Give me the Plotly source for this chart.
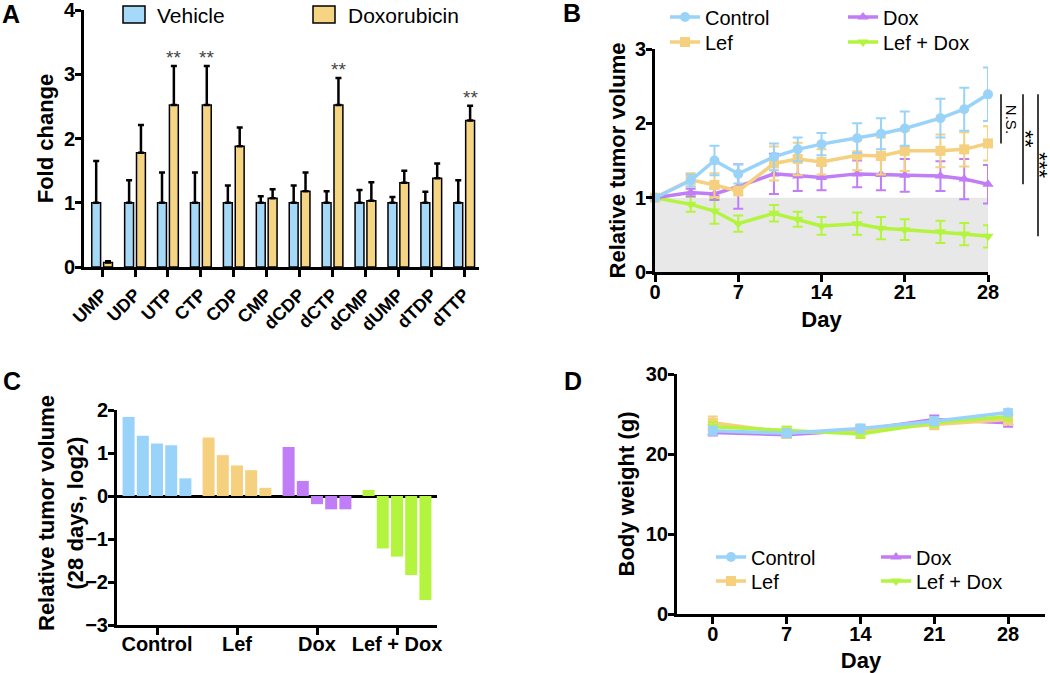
import plotly.graph_objects as go

FONT = "Liberation Sans, Arial, Helvetica, sans-serif"
W, H = 1050, 673

# ---------------- data ----------------
# Panel A: nucleotide fold change
nucleotides = ["UMP", "UDP", "UTP", "CTP", "CDP", "CMP", "dCDP", "dCTP", "dCMP", "dUMP", "dTDP", "dTTP"]
vehicle_fc = [1.0, 1.0, 1.0, 1.0, 1.0, 1.0, 1.0, 1.0, 1.0, 1.0, 1.0, 1.0]
vehicle_err = [0.65, 0.35, 0.47, 0.47, 0.27, 0.10, 0.27, 0.18, 0.20, 0.09, 0.17, 0.35]
doxo_fc = [0.07, 1.78, 2.52, 2.52, 1.88, 1.07, 1.18, 2.52, 1.03, 1.31, 1.38, 2.28]
doxo_err = [0.02, 0.43, 0.61, 0.61, 0.29, 0.14, 0.29, 0.42, 0.29, 0.19, 0.23, 0.23]
sig_A = ["", "", "**", "**", "", "", "", "**", "", "", "", "**"]

# Panel B: relative tumor volume over time
groups = ["Control", "Lef", "Dox", "Lef + Dox"]
days_B = [0, 3, 5, 7, 10, 12, 14, 17, 19, 21, 24, 26, 28]
control_B = [1.0, 1.23, 1.50, 1.32, 1.55, 1.65, 1.72, 1.80, 1.86, 1.93, 2.07, 2.19, 2.39]
control_B_err = [0.0, 0.08, 0.20, 0.13, 0.18, 0.16, 0.15, 0.20, 0.21, 0.23, 0.26, 0.29, 0.36]
lef_B = [1.0, 1.24, 1.17, 1.09, 1.46, 1.52, 1.48, 1.57, 1.56, 1.63, 1.63, 1.65, 1.73]
lef_B_err = [0.0, 0.09, 0.16, 0.06, 0.23, 0.22, 0.17, 0.20, 0.25, 0.27, 0.22, 0.23, 0.23]
dox_B = [1.0, 1.07, 1.05, 1.15, 1.32, 1.29, 1.27, 1.32, 1.31, 1.30, 1.29, 1.25, 1.18]
dox_B_err = [0.0, 0.05, 0.08, 0.30, 0.27, 0.20, 0.17, 0.18, 0.21, 0.22, 0.20, 0.27, 0.26]
lefdox_B = [1.0, 0.91, 0.82, 0.65, 0.79, 0.71, 0.62, 0.65, 0.59, 0.57, 0.54, 0.51, 0.48]
lefdox_B_err = [0.0, 0.10, 0.17, 0.11, 0.11, 0.10, 0.12, 0.15, 0.15, 0.14, 0.15, 0.15, 0.15]
baseline_B = 1.0
sig_B = ["N.S.", "**", "***"]

# Panel C: waterfall of log2 relative tumor volume at day 28
control_C = [1.84, 1.40, 1.22, 1.18, 0.41]
lef_C = [1.36, 0.95, 0.71, 0.60, 0.19]
dox_C = [1.14, 0.35, -0.19, -0.31, -0.31]
lefdox_C = [0.14, -1.22, -1.41, -1.84, -2.42]

# Panel D: body weight
days_D = [0, 7, 14, 21, 28]
control_D = [22.9, 22.6, 23.2, 24.1, 25.2]
control_D_err = [0.5, 0.5, 0.5, 0.5, 0.4]
lef_D = [23.9, 22.7, 22.9, 23.7, 24.3]
lef_D_err = [0.8, 0.7, 0.7, 0.6, 0.6]
dox_D = [22.7, 22.4, 23.0, 24.3, 23.9]
dox_D_err = [0.4, 0.4, 0.5, 0.5, 0.5]
lefdox_D = [23.4, 22.9, 22.5, 23.9, 24.7]
lefdox_D_err = [0.6, 0.5, 0.5, 0.5, 0.5]

# ---------------- style ----------------
A_BLUE, A_YELLOW = "#a6d8f8", "#f5d584"
colors = ["#99d3fa", "#f4d07f", "#c17df6", "#b3f53e"]
symbols = ["circle", "square", "triangle-up", "triangle-down"]


def px(p):
    return p / W


def py(p):
    return 1 - p / H


fig = go.Figure()

# ---------------- Panel A ----------------
fig.add_trace(go.Bar(
    x=nucleotides, y=vehicle_fc, name="Vehicle", width=0.27, offset=-0.315,
    marker=dict(color=A_BLUE, line=dict(color="black", width=1.5)),
    error_y=dict(type="data", symmetric=False, array=vehicle_err,
                 arrayminus=[0] * len(vehicle_err), color="black", thickness=2.5, width=3),
    xaxis="x", yaxis="y", showlegend=False))
fig.add_trace(go.Bar(
    x=nucleotides, y=doxo_fc, name="Doxorubicin", width=0.27, offset=0.045,
    marker=dict(color=A_YELLOW, line=dict(color="black", width=1.5)),
    error_y=dict(type="data", symmetric=False, array=doxo_err,
                 arrayminus=[0] * len(doxo_err), color="black", thickness=2.5, width=3),
    xaxis="x", yaxis="y", showlegend=False))

annotations = []
for name, v, e, s in zip(nucleotides, doxo_fc, doxo_err, sig_A):
    if s:
        annotations.append(dict(x=name, y=v + e, xref="x", yref="y", text=s, showarrow=False,
                                xshift=6, yanchor="bottom", yshift=-4,
                                font=dict(family=FONT, size=19, color="#444444")))

shapes = []
# legend boxes of panel A
for (x0, x1, col, label, tx) in [(123, 145, A_BLUE, "Vehicle", 155), (313, 335, A_YELLOW, "Doxorubicin", 346)]:
    shapes.append(dict(type="rect", xref="paper", yref="paper", x0=px(x0), x1=px(x1), y0=py(23), y1=py(6),
                       fillcolor=col, line=dict(color="black", width=1.5)))
    annotations.append(dict(x=px(tx), y=py(15), xref="paper", yref="paper", text=label, showarrow=False,
                            xanchor="left", yanchor="middle",
                            font=dict(family=FONT, size=21, color="black")))

# ---------------- Panel B ----------------
B_series = [(control_B, control_B_err), (lef_B, lef_B_err), (dox_B, dox_B_err), (lefdox_B, lefdox_B_err)]
B_legends = ["legend", "legend3", "legend2", "legend4"]
for i in [3, 2, 1, 0]:
    y, e = B_series[i]
    fig.add_trace(go.Scatter(
        x=days_B, y=y, name=groups[i], mode="lines+markers",
        line=dict(color=colors[i], width=3.5),
        marker=dict(color=colors[i], size=10, symbol=symbols[i]),
        error_y=dict(type="data", array=e, color=colors[i], thickness=2, width=5),
        cliponaxis=False, xaxis="x2", yaxis="y2", legend=B_legends[i]))

shapes.append(dict(type="rect", xref="x2", yref="y2", x0=days_B[0], x1=days_B[-1], y0=0, y1=baseline_B,
                   fillcolor="#e8e8e8", line=dict(width=0), layer="below"))

# significance brackets (paper coords computed from the y2 axis)
yB_dom = (py(272), py(49))
yB_rng = (0, 3)


def yB_paper(v):
    return yB_dom[0] + (v - yB_rng[0]) / (yB_rng[1] - yB_rng[0]) * (yB_dom[1] - yB_dom[0])


ends = [lef_B[-1], dox_B[-1], lefdox_B[-1]]
line_x = [1001, 1023, 1038]
text_x = [1011, 1026, 1040]
text_size = [15, 22, 22]
for lx, tx, end, s, fs in zip(line_x, text_x, ends, sig_B, text_size):
    shapes.append(dict(type="line", xref="paper", yref="paper", x0=px(lx), x1=px(lx),
                       y0=yB_paper(control_B[-1]), y1=yB_paper(end), line=dict(color="black", width=1.5)))
    annotations.append(dict(x=px(tx), y=yB_paper((control_B[-1] + end) / 2), xref="paper", yref="paper",
                            text=s, textangle=90, showarrow=False, xanchor="center", yanchor="middle",
                            font=dict(family=FONT, size=fs, color="black")))

# ---------------- Panel C ----------------
C_values = [control_C, lef_C, dox_C, lefdox_C]
n_rank = len(control_C)
for k in range(n_rank):
    fig.add_trace(go.Bar(
        x=groups, y=[vals[k] for vals in C_values], width=0.15, offset=(k - 2) * 0.1775 - 0.075,
        marker=dict(color=colors, line=dict(width=0)), xaxis="x3", yaxis="y3", showlegend=False))

# ---------------- Panel D ----------------
D_series = [(control_D, control_D_err), (lef_D, lef_D_err), (dox_D, dox_D_err), (lefdox_D, lefdox_D_err)]
D_legends = ["legend5", "legend7", "legend6", "legend8"]
for i in [2, 1, 3, 0]:
    y, e = D_series[i]
    fig.add_trace(go.Scatter(
        x=days_D, y=y, name=groups[i], mode="lines+markers",
        line=dict(color=colors[i], width=3.5),
        marker=dict(color=colors[i], size=10, symbol=symbols[i]),
        error_y=dict(type="data", array=e, color=colors[i], thickness=2, width=5),
        cliponaxis=False, xaxis="x4", yaxis="y4", legend=D_legends[i]))

# ---------------- panel letters ----------------
for letter, x, y in [("A", 11, 14), ("B", 572, 13), ("C", 12, 381), ("D", 573, 381)]:
    annotations.append(dict(x=px(x), y=py(y), xref="paper", yref="paper", text=letter, showarrow=False,
                            xanchor="center", yanchor="middle",
                            font=dict(family=FONT, size=25, color="black", weight="bold")))

# ---------------- axes ----------------
tickf = dict(family=FONT, size=20, color="black", weight="bold")
titlef = dict(family=FONT, size=22, color="black", weight="bold")

# two-line y title of panel C
annotations.append(dict(x=px(61), y=py(513), xref="paper", yref="paper",
                        text="Relative tumor volume<br>(28 days, log2)", textangle=-90, showarrow=False,
                        xanchor="center", yanchor="middle", font=titlef))

ax = dict(showline=True, linecolor="black", linewidth=3, ticks="outside", ticklen=7, tickwidth=3,
          tickcolor="black", showgrid=False, zeroline=False, tickfont=tickf, fixedrange=True,
          ticklabeloverflow="allow")
yax = dict(ax, ticklen=6, ticklabelstandoff=-4)

legend_base = dict(bgcolor="rgba(0,0,0,0)", font=dict(family=FONT, size=20, color="black"),
                   xanchor="left", yanchor="middle", itemwidth=30, borderwidth=0, tracegroupgap=0)
legend_pos = {
    "legend": (665, 17), "legend2": (843, 17), "legend3": (665, 42), "legend4": (843, 42),
    "legend5": (711, 557), "legend6": (876, 557), "legend7": (711, 581), "legend8": (876, 581),
}
legend_layout = {k: dict(legend_base, x=px(x), y=py(y)) for k, (x, y) in legend_pos.items()}

fig.update_layout(
    width=W, height=H, margin=dict(l=0, r=0, t=0, b=0, autoexpand=False),
    paper_bgcolor="white", plot_bgcolor="white", barmode="overlay",
    font=dict(family=FONT, color="black"),
    xaxis=dict(ax, domain=[px(84), px(479)], type="category", range=[-0.55, 11.45], tickangle=-45,
               tickfont=dict(tickf, size=18), anchor="y"),
    yaxis=dict(yax, domain=[py(267), py(10)], range=[0, 4], dtick=1, anchor="x",
               title=dict(text="Fold change", font=titlef, standoff=5)),
    xaxis2=dict(ax, domain=[px(655), px(988)], range=[0, 28], tickvals=[0, 7, 14, 21, 28], anchor="y2",
                ticklabelstandoff=-7,
                title=dict(text="Day", font=titlef, standoff=10)),
    yaxis2=dict(yax, domain=[yB_dom[0], yB_dom[1]], range=list(yB_rng), dtick=1, anchor="x2",
                title=dict(text="Relative tumor volume", font=titlef, standoff=4)),
    xaxis3=dict(ax, domain=[px(117), px(437)], type="category", range=[-0.5, 3.5], anchor="y3",
                ticklabelstandoff=-8),
    yaxis3=dict(yax, domain=[py(625), py(410)], range=[-3, 2], dtick=1, anchor="x3",
                zeroline=True, zerolinecolor="black", zerolinewidth=3),
    xaxis4=dict(ax, domain=[px(677), px(1045)], range=[-3.4, 31.5], tickvals=[0, 7, 14, 21, 28], anchor="y4",
                ticklabelstandoff=-7,
                title=dict(text="Day", font=titlef, standoff=11)),
    yaxis4=dict(yax, domain=[py(614), py(374)], range=[0, 30], dtick=10, anchor="x4",
                title=dict(text="Body weight (g)", font=titlef, standoff=6)),
    shapes=shapes, annotations=annotations,
    **legend_layout,
)

fig.write_html("out.html", config={"displayModeBar": False},
               post_script="document.body.style.margin='0px';")
